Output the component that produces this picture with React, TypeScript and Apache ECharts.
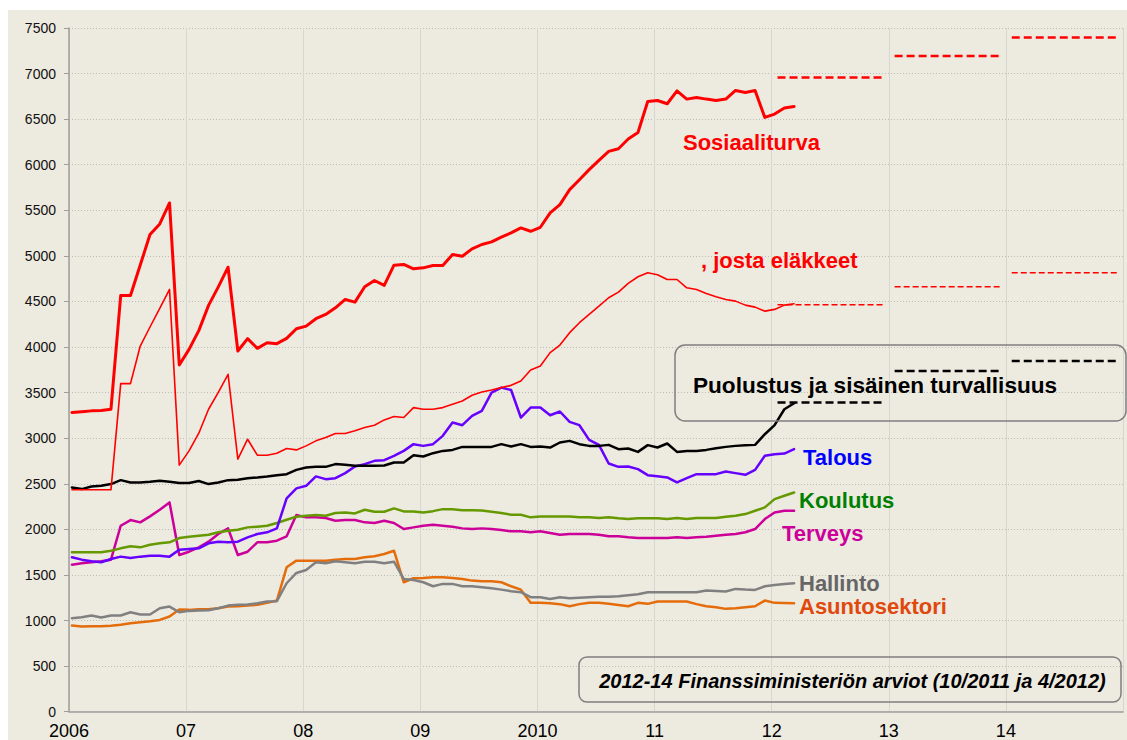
import React, { useEffect, useRef } from "react";
import * as echarts from "echarts";

const startYear = 2006;
const monthOffset = 0.3;
const yearLabels = ["2006", "07", "08", "09", "2010", "11", "12", "13", "14", ""];

const sosiaaliturva = [
  3282, 3290, 3300, 3305, 3318, 4566, 4566, 4900, 5234, 5351, 5581, 3803,
  3975, 4180, 4457, 4660, 4876, 3957, 4092, 3986, 4048, 4037, 4095, 4201,
  4230, 4311, 4358, 4431, 4522, 4493, 4661, 4730, 4676, 4898, 4906, 4858,
  4869, 4895, 4895, 5015, 4997, 5077, 5125, 5154, 5205, 5253, 5307, 5270,
  5314, 5472, 5563, 5727, 5836, 5946, 6048, 6146, 6176, 6282, 6354, 6694,
  6705, 6669, 6811, 6720, 6738, 6720, 6705, 6720, 6815, 6793, 6815, 6519,
  6556, 6622, 6640,
];
const elakkeet = [
  2434, 2434, 2434, 2434, 2434, 3599, 3599, 4011, 4220, 4425, 4632, 2705,
  2861, 3055, 3318, 3504, 3701, 2770, 2989, 2814, 2814, 2836, 2887, 2872,
  2916, 2971, 3008, 3052, 3052, 3081, 3117, 3143, 3201, 3238, 3227, 3336,
  3318, 3318, 3336, 3373, 3409, 3471, 3507, 3529, 3555, 3580, 3628, 3748,
  3792, 3939, 4022, 4158, 4267, 4358, 4449, 4541, 4603, 4698, 4771, 4815,
  4793, 4741, 4741, 4650, 4632, 4588, 4552, 4522, 4504, 4460, 4438, 4394,
  4413, 4460, 4475,
];
const puolustus = [
  2460, 2442, 2471, 2478, 2497, 2540, 2515, 2515, 2522, 2533, 2522, 2508,
  2508, 2530, 2497, 2515, 2540, 2544, 2562, 2570, 2581, 2595, 2606, 2653,
  2679, 2686, 2686, 2716, 2708, 2697, 2697, 2697, 2701, 2734, 2734, 2814,
  2800, 2836, 2861, 2872, 2905, 2905, 2905, 2905, 2935, 2909, 2935, 2905,
  2909, 2898, 2953, 2971, 2935, 2916, 2916, 2927, 2880, 2887, 2850, 2924,
  2898, 2942, 2850, 2861, 2861, 2872, 2891, 2905, 2916, 2924, 2927, 3044,
  3143, 3318, 3384,
];
const talous = [
  1694, 1668, 1650, 1639, 1675, 1701, 1686, 1701, 1712, 1712, 1701, 1777,
  1785, 1792, 1847, 1865, 1858, 1865, 1913, 1949, 1968, 2012, 2340, 2450,
  2478, 2581, 2551, 2562, 2617, 2690, 2716, 2752, 2759, 2807, 2861, 2935,
  2916, 2935, 3026, 3172, 3143, 3245, 3300, 3501, 3555, 3529, 3227, 3336,
  3336, 3252, 3293, 3179, 3143, 2982, 2927, 2723, 2686, 2690, 2661, 2595,
  2584, 2570, 2515, 2562, 2606, 2606, 2606, 2635, 2617, 2599, 2653, 2807,
  2825, 2832, 2880,
];
const koulutus = [
  1749, 1749, 1749, 1749, 1766, 1792, 1814, 1803, 1832, 1847, 1858, 1905,
  1920, 1931, 1942, 1968, 1985, 1996, 2022, 2030, 2040, 2070, 2106, 2139,
  2150, 2157, 2150, 2179, 2186, 2175, 2215, 2193, 2193, 2230, 2197, 2197,
  2186, 2200, 2222, 2222, 2211, 2211, 2208, 2193, 2179, 2161, 2161, 2132,
  2142, 2142, 2142, 2142, 2132, 2132, 2124, 2132, 2121, 2113, 2121, 2121,
  2121, 2113, 2124, 2113, 2124, 2124, 2124, 2139, 2150, 2168, 2204, 2241,
  2332, 2369, 2405,
];
const terveys = [
  1613, 1628, 1639, 1650, 1668, 2040, 2102, 2077, 2143, 2215, 2296, 1719,
  1755, 1803, 1865, 1949, 2011, 1719, 1755, 1858, 1858, 1876, 1924, 2157,
  2132, 2132, 2124, 2095, 2102, 2102, 2077, 2070, 2095, 2070, 2004, 2022,
  2040, 2051, 2040, 2030, 2011, 2004, 2011, 2004, 1993, 1979, 1979, 1968,
  1979, 1960, 1942, 1949, 1949, 1949, 1942, 1924, 1924, 1913, 1905, 1905,
  1905, 1905, 1913, 1905, 1913, 1920, 1931, 1942, 1949, 1968, 2004, 2113,
  2186, 2204, 2204,
];
const hallinto = [
  1026, 1037, 1055, 1033, 1055, 1055, 1091, 1066, 1066, 1135, 1153, 1091,
  1106, 1110, 1113, 1135, 1164, 1172, 1175, 1190, 1208, 1212, 1409, 1522,
  1555, 1639, 1628, 1650, 1639, 1628, 1646, 1646, 1628, 1646, 1456, 1445,
  1420, 1376, 1402, 1402, 1376, 1376, 1365, 1354, 1339, 1321, 1311, 1256,
  1256, 1237, 1256, 1245, 1250, 1256, 1260, 1262, 1267, 1278, 1289, 1311,
  1311, 1311, 1311, 1311, 1311, 1329, 1325, 1318, 1347, 1340, 1336, 1376,
  1391, 1400, 1409,
];
const asuntosektori = [
  945, 934, 938, 938, 942, 953, 971, 982, 993, 1007, 1044, 1120,
  1117, 1124, 1124, 1135, 1153, 1157, 1164, 1172, 1194, 1219, 1584, 1657,
  1657, 1657, 1657, 1668, 1675, 1675, 1694, 1705, 1730, 1766, 1420, 1464,
  1467, 1475, 1475, 1467, 1456, 1438, 1431, 1431, 1420, 1376, 1339, 1194,
  1194, 1190, 1180, 1157, 1180, 1194, 1194, 1183, 1170, 1157, 1194, 1183,
  1208, 1208, 1208, 1208, 1180, 1157, 1145, 1128, 1135, 1145, 1157, 1219,
  1194, 1192, 1190,
];

const forecastYears = [2012, 2013, 2014];
const sosiaaliturvaForecast = [6957, 7194, 7395];
const elakkeetForecast = [4464, 4661, 4815];
const puolustusForecast = [3391, 3737, 3847];

const FONT = "'Liberation Sans', Arial, Helvetica, sans-serif";

function monthly(values: number[]) {
  return values.map((v, i) => [startYear + (i + monthOffset) / 12, v]);
}

function forecast(values: number[]) {
  const out: any[] = [];
  values.forEach((v, k) => {
    const y = forecastYears[k];
    out.push([y + 0.05, v], [y + 0.95, v], [y + 0.975, "-"]);
  });
  return out;
}

function line(name: string, values: number[], color: string, width: number, z = 2) {
  return {
    name,
    type: "line",
    data: monthly(values),
    showSymbol: false,
    symbol: "none",
    z,
    lineStyle: { color, width, join: "round", cap: "round" },
  };
}

function dashed(name: string, values: number[], color: string, width: number, dash: number[]) {
  return {
    name,
    type: "line",
    data: forecast(values),
    showSymbol: false,
    symbol: "none",
    connectNulls: false,
    lineStyle: { color, width, type: dash },
  };
}

function label(text: string, x: number, y: number, color: string, size = 22) {
  return {
    type: "text",
    x,
    y,
    z: 100,
    style: {
      text,
      fill: color,
      fontSize: size,
      fontWeight: "bold",
      fontFamily: FONT,
      align: "left",
      verticalAlign: "middle",
    },
  };
}

export default function App() {
  const ref = useRef<HTMLDivElement>(null);

  useEffect(() => {
    if (!ref.current) return;
    const chart = echarts.init(ref.current, undefined, { renderer: "svg" });
    const option: any = {
      animation: false,
      backgroundColor: "#EDEAE0",
      grid: {
        left: 61,
        right: 4,
        top: 18,
        bottom: 28.3,
        containLabel: false,
        outerBoundsMode: "none",
      },
      xAxis: {
        type: "value",
        min: 2006,
        max: 2015,
        interval: 1,
        axisLine: { show: true, lineStyle: { color: "#9E9E9E", width: 1.5 } },
        axisTick: { show: false },
        axisLabel: {
          color: "#000",
          fontSize: 18,
          fontFamily: FONT,
          margin: 10,
          formatter: (v: number) => yearLabels[Math.round(v - startYear)] ?? "",
        },
        splitLine: { show: true, lineStyle: { color: "#D6D6D2", width: 1, type: "solid" } },
      },
      yAxis: {
        type: "value",
        min: 0,
        max: 7500,
        interval: 500,
        axisLine: { show: true, lineStyle: { color: "#9E9E9E", width: 1.5 } },
        axisTick: { show: true, inside: false, length: 5, lineStyle: { color: "#9E9E9E", width: 1 } },
        axisLabel: {
          color: "#111",
          fontSize: 14,
          fontFamily: FONT,
          margin: 13,
          formatter: (v: number) => String(v),
        },
        splitLine: { show: true, lineStyle: { color: "#BDBDB8", width: 1, type: [1, 2] } },
      },
      series: [
        line("Asuntosektori", asuntosektori, "#E46C0A", 2.5),
        line("Hallinto", hallinto, "#808080", 2.5),
        line("Terveys", terveys, "#CC0099", 2.5),
        line("Koulutus", koulutus, "#669900", 2.5),
        line("Talous", talous, "#6600FF", 2.5),
        line("Puolustus ja sisäinen turvallisuus", puolustus, "#000000", 2.5),
        line(", josta eläkkeet", elakkeet, "#FF0000", 1.6),
        line("Sosiaaliturva", sosiaaliturva, "#FF0000", 3),
        dashed("Sosiaaliturva ennuste", sosiaaliturvaForecast, "#FF0000", 2.5, [8, 4]),
        dashed("eläkkeet ennuste", elakkeetForecast, "#FF0000", 1.5, [6, 3]),
        dashed("Puolustus ennuste", puolustusForecast, "#000000", 2.5, [8, 4]),
      ],
      graphic: [
        {
          type: "rect",
          shape: { x: 667, y: 335, width: 451, height: 76, r: 10 },
          style: { fill: "none", stroke: "#7F7F7F", lineWidth: 1.5 },
          z: 90,
        },
        {
          type: "rect",
          shape: { x: 571, y: 647, width: 542, height: 45, r: 8 },
          style: { fill: "none", stroke: "#7F7F7F", lineWidth: 1.5 },
          z: 90,
        },
        label("Sosiaaliturva", 675, 132, "#FF0000"),
        label(", josta eläkkeet", 693, 250, "#FF0000"),
        label("Puolustus ja sisäinen turvallisuus", 685, 375, "#000000", 22.6),
        label("Talous", 795, 447, "#0000FF"),
        label("Koulutus", 791, 490, "#008000"),
        label("Terveys", 774, 523, "#CC0099"),
        label("Hallinto", 791, 573, "#666666"),
        label("Asuntosektori", 791, 596, "#E0480C"),
        {
          type: "text",
          x: 844.5,
          y: 670.5,
          z: 100,
          style: {
            text: "2012-14 Finanssiministeriön arviot (10/2011 ja 4/2012)",
            fill: "#000",
            fontSize: 20,
            fontWeight: "bold",
            fontStyle: "italic",
            fontFamily: FONT,
            align: "center",
            verticalAlign: "middle",
          },
        },
      ],
    };
    chart.setOption(option);
    return () => chart.dispose();
  }, []);

  return (
    <div
      ref={ref}
      style={{ position: "absolute", left: 8, top: 10, width: 1119, height: 730 }}
    />
  );
}
